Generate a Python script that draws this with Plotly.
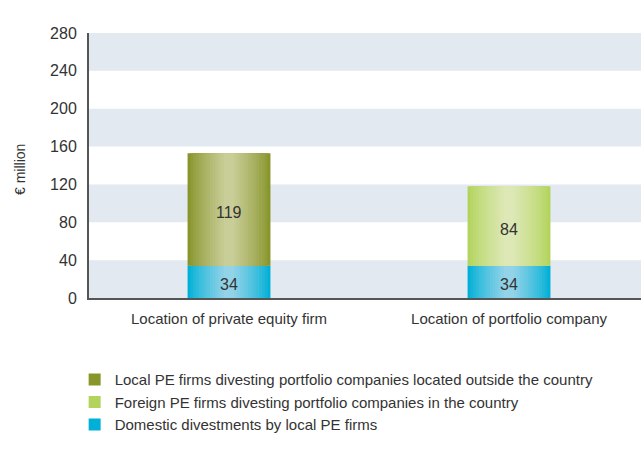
import plotly.graph_objects as go

categories = ["Location of private equity firm", "Location of portfolio company"]
domestic = [34, 34]
local_outside = [119, None]
foreign_in = [None, 84]
y_ticks = [0, 40, 80, 120, 160, 200, 240, 280]

series_names = {
    "local": "Local PE firms divesting portfolio companies located outside the country",
    "foreign": "Foreign PE firms divesting portfolio companies in the country",
    "domestic": "Domestic divestments by local PE firms",
}

FONT = "Liberation Sans, Arial, sans-serif"
TXT = "#333333"

COL = {
    "domestic": ("#00b0d6", "#93d3e8"),
    "local": ("#87952a", "#c9cd98"),
    "foreign": ("#b3d45c", "#dde8b6"),
}


def lerp(c1, c2, t):
    a = [int(c1[i:i + 2], 16) for i in (1, 3, 5)]
    b = [int(c2[i:i + 2], 16) for i in (1, 3, 5)]
    return "#" + "".join(f"{round(a[k] + (b[k] - a[k]) * t):02x}" for k in range(3))


widths = [0.296 - 0.02 * i for i in range(14)]

fig = go.Figure()


def add_segment(vals, bases, key):
    dark, light = COL[key]
    n = len(widths)
    for i, w in enumerate(widths):
        t = (i / (n - 1)) ** 0.8
        fig.add_trace(go.Bar(
            x=categories, y=vals, base=bases, width=w,
            marker=dict(color=lerp(dark, light, t), line=dict(width=0)),
            showlegend=False, hoverinfo="skip",
        ))


add_segment(domestic, [0, 0], "domestic")
add_segment(local_outside, domestic, "local")
add_segment(foreign_in, domestic, "foreign")

# value labels (centred on each segment)
annotations = []
for i, c in enumerate(categories):
    top = local_outside[i] if local_outside[i] is not None else foreign_in[i]
    for yv, val in [(domestic[i] / 2, domestic[i]), (domestic[i] + top / 2, top)]:
        annotations.append(dict(x=c, y=yv, xref="x", yref="y", text=str(val),
                                showarrow=False, yshift=-3,
                                font=dict(size=16, color=TXT, family=FONT)))

annotations.append(dict(text="€ million", xref="paper", yref="paper",
                        x=-0.125, y=0.483, xanchor="center", yanchor="middle",
                        textangle=-90, showarrow=False,
                        font=dict(size=14, color=TXT, family=FONT)))

# legend entries
for key in ["local", "foreign", "domestic"]:
    fig.add_trace(go.Scatter(x=[None], y=[None], mode="markers", name=series_names[key],
                             marker=dict(symbol="square", size=12, color=COL[key][0]),
                             showlegend=True, hoverinfo="skip"))

shapes = []
for lo in y_ticks[:-1:2]:
    shapes.append(dict(type="rect", xref="paper", yref="y", x0=0, x1=1, y0=lo, y1=lo + 40,
                       fillcolor="#e2e9f1", line=dict(width=0), layer="below"))

fig.update_layout(
    width=641, height=453,
    margin=dict(l=89, r=0, t=33, b=155),
    paper_bgcolor="white", plot_bgcolor="white",
    barmode="overlay",
    font=dict(family=FONT, size=14, color=TXT),
    shapes=shapes,
    showlegend=True,
    legend=dict(x=-0.026, y=-0.246, xanchor="left", yanchor="top",
                font=dict(size=15, color=TXT, family=FONT), itemwidth=30,
                bgcolor="rgba(0,0,0,0)", traceorder="normal"),
    annotations=annotations,
)
fig.update_xaxes(range=[-0.5, 1.4714], showgrid=False, showline=True, linecolor="#555555",
                 linewidth=2, ticks="", ticklabelstandoff=6,
                 tickfont=dict(size=15, color=TXT), fixedrange=True, automargin=False)
fig.update_yaxes(range=[0, 280], tickvals=y_ticks, showgrid=False, showline=True,
                 linecolor="#555555", linewidth=2, zeroline=False, ticks="",
                 ticklabelstandoff=7, tickfont=dict(size=16, color=TXT), automargin=False)

fig.write_html("out.html", post_script="document.body.style.margin='0';",
               config={"displayModeBar": False})
